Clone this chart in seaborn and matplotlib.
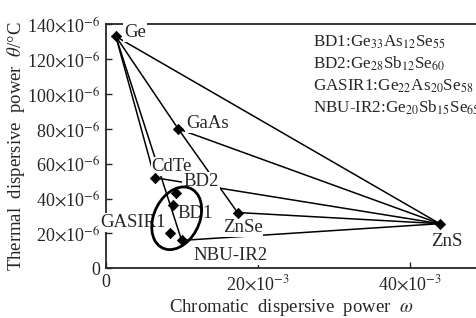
import matplotlib
matplotlib.use('Agg')
import matplotlib.pyplot as plt
import seaborn as sns
import pandas as pd
from matplotlib.patches import Ellipse

# data (omega in 10^-3, theta in 10^-6)
materials = ['Ge', 'GaAs', 'CdTe', 'BD2', 'BD1', 'GASIR1', 'NBU-IR2', 'ZnSe', 'ZnS']
omega = [1.3, 9.5, 6.4, 9.25, 8.8, 8.45, 9.95, 17.3, 43.9]
theta = [133, 80, 52, 43, 36.5, 20.5, 16, 32, 25.6]

links = [('Ge', 'ZnS'), ('Ge', 'GaAs'), ('Ge', 'CdTe'), ('Ge', 'NBU-IR2'),
         ('GaAs', 'ZnS'), ('GaAs', 'ZnSe'), ('CdTe', 'ZnS'),
         ('ZnSe', 'ZnS'), ('NBU-IR2', 'ZnS')]

compositions = [r'BD1:Ge$_{33}$As$_{12}$Se$_{55}$',
                r'BD2:Ge$_{28}$Sb$_{12}$Se$_{60}$',
                r'GASIR1:Ge$_{22}$As$_{20}$Se$_{58}$',
                r'NBU-IR2:Ge$_{20}$Sb$_{15}$Se$_{65}$']

xticks = [0, 20, 40]
yticks = [0, 20, 40, 60, 80, 100, 120, 140]

df = pd.DataFrame({'material': materials, 'omega': omega, 'theta': theta})
pos = df.set_index('material')

sns.set_style('ticks')
plt.rcParams['font.family'] = ['Liberation Serif', 'DejaVu Serif']
plt.rcParams['mathtext.fontset'] = 'stix'

fig = plt.figure(figsize=(4.77, 3.18), dpi=100)
ax = fig.add_axes([0.2222, 0.1563, 0.7778, 0.7673])

for a, b in links:
    ax.plot([pos.loc[a, 'omega'], pos.loc[b, 'omega']],
            [pos.loc[a, 'theta'], pos.loc[b, 'theta']],
            color='black', lw=1.1, zorder=2)

sns.scatterplot(data=df, x='omega', y='theta', marker='D', color='black',
                s=28, edgecolor='black', linewidth=0.5, zorder=5, ax=ax)

ax.add_patch(Ellipse((9.3, 28.7), 6.3, 36, angle=-3, fill=False,
                     edgecolor='black', lw=2, zorder=4))

# label placement (pixels offset, alignment)
offsets = {'Ge': (8, 4, 'left'), 'GaAs': (8, 5, 'left'), 'CdTe': (-3, 11, 'left'),
           'BD2': (7, 12, 'left'), 'BD1': (5, -9, 'left'), 'GASIR1': (-4, 10, 'right'),
           'NBU-IR2': (12, -15, 'left'), 'ZnSe': (5, -15, 'center'),
           'ZnS': (7, -18, 'center')}
for m in materials:
    dx, dy, ha = offsets[m]
    ax.annotate(m, (pos.loc[m, 'omega'], pos.loc[m, 'theta']),
                xytext=(dx, dy), textcoords='offset pixels', ha=ha, va='center',
                fontsize=13.5, zorder=3,
                bbox=dict(boxstyle='square,pad=0.05', fc='white', ec='none'))

for i, t in enumerate(compositions):
    ax.text(0.558, 0.927 - i * 0.09, t, transform=ax.transAxes,
            ha='left', va='center', fontsize=12.3)

ax.set_xlim(0, 48.8)
ax.set_ylim(0, 140)
ax.set_xticks(xticks)
ax.set_xticklabels(['0' if v == 0 else r'%d$\times$10$^{-3}$' % v for v in xticks])
ax.set_yticks(yticks)
ax.set_yticklabels(['0' if v == 0 else r'%d$\times$10$^{-6}$' % v for v in yticks])
ax.tick_params(direction='in', length=4, width=1, labelsize=13, pad=4)
ax.spines['right'].set_visible(False)
for s in ['left', 'bottom', 'top']:
    ax.spines[s].set_linewidth(1.3)

ax.set_xlabel(r'Chromatic  dispersive  power  $\omega$', fontsize=13.5, labelpad=2)
ax.set_ylabel(r'Thermal  dispersive  power  $\theta$/°C', fontsize=13.5, labelpad=0)

fig.savefig('out.png', dpi=100)
